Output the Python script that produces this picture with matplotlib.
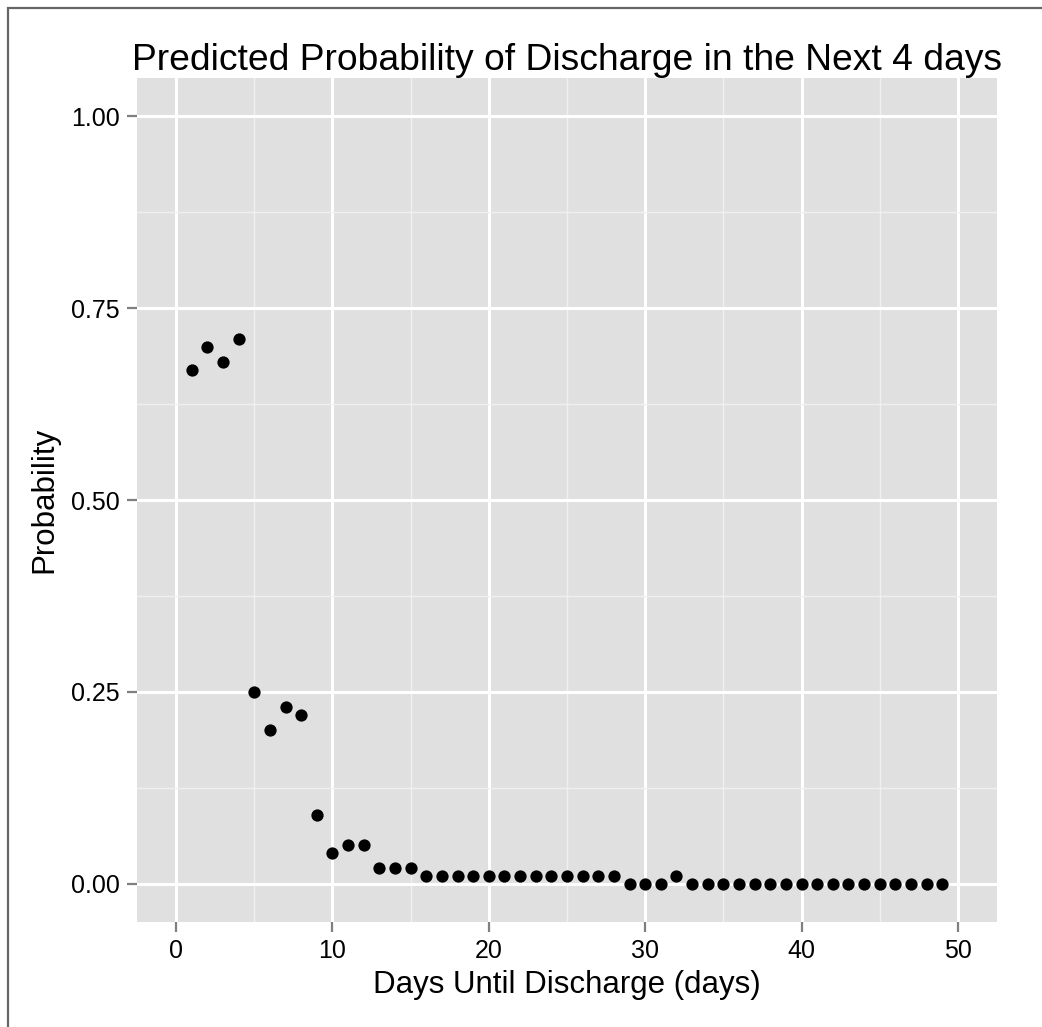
import matplotlib
matplotlib.use("Agg")
import matplotlib.pyplot as plt
from matplotlib.patches import Rectangle
from matplotlib.ticker import MultipleLocator

plt.rcParams['font.family'] = ['Liberation Sans', 'DejaVu Sans']

days = list(range(1, 50))
prob = [0.67, 0.70, 0.68, 0.71, 0.25, 0.20, 0.23, 0.22, 0.09, 0.04,
        0.05, 0.05, 0.02, 0.02, 0.02, 0.01, 0.01, 0.01, 0.01, 0.01,
        0.01, 0.01, 0.01, 0.01, 0.01, 0.01, 0.01, 0.01, 0.00, 0.00,
        0.00, 0.01, 0.00, 0.00, 0.00, 0.00, 0.00, 0.00, 0.00, 0.00,
        0.00, 0.00, 0.00, 0.00, 0.00, 0.00, 0.00, 0.00, 0.00]
x_ticks = [0, 10, 20, 30, 40, 50]
y_ticks = [0.00, 0.25, 0.50, 0.75, 1.00]
y_tick_labels = ["0.00", "0.25", "0.50", "0.75", "1.00"]
title = "Predicted Probability of Discharge in the Next 4 days"
xlabel = "Days Until Discharge (days)"
ylabel = "Probability"

W, H = 1042, 1027
fig = plt.figure(figsize=(W / 100, H / 100), dpi=100)
fig.patch.set_facecolor('white')

# outer frame
fig.add_artist(Rectangle((8 / W, -0.1), 1.2, (H - 8) / H + 0.1, transform=fig.transFigure,
                         fill=False, edgecolor='#666666', linewidth=1.6))

left, right, top, bottom = 137, 997, 78, 922
ax = fig.add_axes([left / W, 1 - bottom / H, (right - left) / W, (bottom - top) / H])
ax.set_facecolor('#e0e0e0')
for s in ax.spines.values():
    s.set_visible(False)

ax.set_xlim(-2.5, 52.5)
ax.set_ylim(-0.05, 1.05)
ax.set_xticks(x_ticks)
ax.set_yticks(y_ticks)
ax.set_yticklabels(y_tick_labels)
ax.xaxis.set_minor_locator(MultipleLocator(5))
ax.yaxis.set_minor_locator(MultipleLocator(0.125))
ax.grid(which='major', color='white', linewidth=2.2)
ax.grid(which='minor', color='#f0f0f0', linewidth=1.0)
ax.set_axisbelow(True)
ax.tick_params(which='major', length=7.5, width=1.6, color='#7f7f7f',
               labelsize=18, labelcolor='black', pad=5)
ax.tick_params(which='minor', length=0)

ax.scatter(days, prob, s=78, color='black', linewidths=0, zorder=3)

ax.set_title(title, fontsize=26.8, pad=5)
ax.set_xlabel(xlabel, fontsize=22.5, labelpad=5)
ax.set_ylabel(ylabel, fontsize=22.5, labelpad=8)

fig.savefig("out.png", dpi=100)
